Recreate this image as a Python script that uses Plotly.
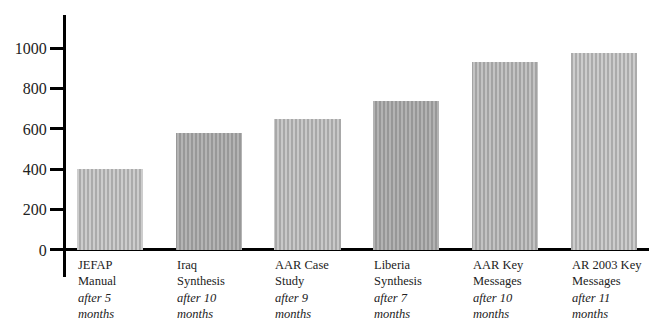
import plotly.graph_objects as go

titles = ["JEFAP<br>Manual", "Iraq<br>Synthesis", "AAR Case<br>Study",
          "Liberia<br>Synthesis", "AAR Key<br>Messages", "AR 2003 Key<br>Messages"]
delays = ["after 5<br>months", "after 10<br>months", "after 9<br>months",
          "after 7<br>months", "after 10<br>months", "after 11<br>months"]
values = [400, 578, 650, 740, 932, 978]
bar_colors = ["#cdcdcd", "#b4b4b4", "#c9c9c9", "#b3b3b3", "#c3c3c3", "#cdcdcd"]
tick_vals = [0, 200, 400, 600, 800, 1000]

positions = list(range(len(values)))
bar_width = 0.67
FONT = "Liberation Serif"

fig = go.Figure()
fig.add_trace(go.Bar(
    x=positions, y=values, width=bar_width,
    marker=dict(color=bar_colors, line=dict(width=0),
                pattern=dict(shape="|", fgcolor="#9c9c9c", size=4, solidity=0.25)),
    hoverinfo="skip",
))

for i, (t, d) in enumerate(zip(titles, delays)):
    fig.add_annotation(
        x=i - bar_width / 2, y=0, xref="x", yref="y",
        xanchor="left", yanchor="top", align="left",
        yshift=-6, xshift=-1,
        text=f"{t}<br><i>{d}</i>", showarrow=False,
        font=dict(family=FONT, size=12.5, color="#222222"),
    )

fig.update_layout(
    width=649, height=320,
    margin=dict(l=66, r=0, t=15, b=43),
    paper_bgcolor="white", plot_bgcolor="white",
    showlegend=False,
    font=dict(family=FONT, color="#222222"),
    bargap=0,
)
fig.update_xaxes(range=[-0.446, 5.459], showticklabels=False, showgrid=False,
                 zeroline=False, showline=False, ticks="")
fig.update_yaxes(range=[-134, 1165], tickvals=tick_vals, showgrid=False,
                 showline=True, linewidth=3, linecolor="black",
                 ticks="outside", ticklen=13, tickwidth=3, tickcolor="black",
                 zeroline=True, zerolinewidth=3, zerolinecolor="black",
                 tickfont=dict(family=FONT, size=16, color="#222222"))

fig.write_html("out.html", config={"displayModeBar": False},
               post_script="document.body.style.margin='0';document.body.style.overflow='hidden';")
